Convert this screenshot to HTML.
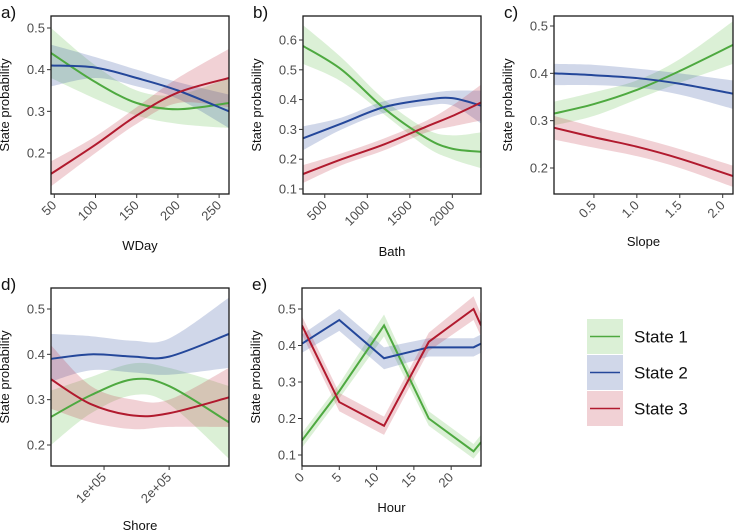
<!DOCTYPE html>
<html><head><meta charset="utf-8"><style>
body{margin:0;background:#fff}
svg{display:block;font-family:"Liberation Sans",Arial,sans-serif}
</style></head><body>
<svg id="chart" width="734" height="532" viewBox="0 0 734 532"></svg>
<script>
// Panel a: WDay
const aX=[46,100,150,200,262];
const aG=[0.44,0.37,0.32,0.305,0.32], aGl=[0.38,0.33,0.29,0.27,0.26], aGu=[0.50,0.41,0.35,0.34,0.38];
const aB=[0.41,0.405,0.38,0.35,0.30], aBl=[0.36,0.38,0.36,0.33,0.26], aBu=[0.46,0.43,0.40,0.37,0.34];
const aR=[0.15,0.22,0.29,0.345,0.38], aRl=[0.12,0.20,0.27,0.32,0.31], aRu=[0.18,0.24,0.31,0.38,0.45];
// Panel b: Bath
const bX=[244,700,1200,1700,2000,2337];
const bG=[0.58,0.50,0.37,0.27,0.235,0.225], bGl=[0.52,0.46,0.35,0.24,0.20,0.17], bGu=[0.65,0.54,0.40,0.30,0.28,0.29];
const bB=[0.27,0.32,0.375,0.40,0.405,0.38], bBl=[0.23,0.30,0.355,0.38,0.38,0.32], bBu=[0.31,0.34,0.395,0.42,0.43,0.43];
const bR=[0.15,0.20,0.25,0.31,0.345,0.39], bRl=[0.12,0.18,0.23,0.29,0.31,0.33], bRu=[0.18,0.22,0.27,0.33,0.38,0.45];
// Panel c: Slope
const cX=[0.035,0.5,1.0,1.5,2.12];
const cG=[0.315,0.335,0.365,0.405,0.46], cGl=[0.29,0.31,0.345,0.38,0.42], cGu=[0.34,0.36,0.385,0.43,0.51];
const cB=[0.40,0.396,0.39,0.378,0.357], cBl=[0.375,0.375,0.37,0.355,0.325], cBu=[0.42,0.418,0.41,0.40,0.385];
const cR=[0.285,0.265,0.245,0.22,0.183], cRl=[0.26,0.243,0.225,0.20,0.16], cRu=[0.31,0.287,0.265,0.24,0.205];
// Panel d: Shore
const dX=[18500,80000,145000,200000,292000];
const dG=[0.262,0.31,0.345,0.33,0.25], dGl=[0.20,0.27,0.31,0.29,0.17], dGu=[0.32,0.35,0.38,0.37,0.33];
const dB=[0.39,0.40,0.395,0.395,0.445], dBl=[0.34,0.365,0.36,0.355,0.37], dBu=[0.445,0.44,0.43,0.435,0.525];
const dR=[0.345,0.29,0.265,0.27,0.305], dRl=[0.28,0.25,0.235,0.24,0.24], dRu=[0.42,0.33,0.30,0.30,0.37];
// Panel e: Hour
const eX=[0,5,11,17,23,24];
const eG=[0.14,0.275,0.455,0.20,0.11,0.135], eGl=[0.12,0.255,0.425,0.18,0.09,0.115], eGu=[0.16,0.295,0.485,0.22,0.13,0.155];
const eB=[0.405,0.47,0.365,0.395,0.395,0.405], eBl=[0.38,0.44,0.335,0.37,0.37,0.38], eBu=[0.43,0.50,0.395,0.42,0.42,0.43];
const eR=[0.455,0.245,0.18,0.41,0.50,0.455], eRl=[0.43,0.22,0.155,0.385,0.47,0.425], eRu=[0.48,0.27,0.205,0.435,0.535,0.485];

const aXt=[50,100,150,200,250], aYt=[0.2,0.3,0.4,0.5];
const bXt=[500,1000,1500,2000], bYt=[0.1,0.2,0.3,0.4,0.5,0.6];
const cXt=[0.5,1.0,1.5,2.0], cYt=[0.2,0.3,0.4,0.5];
const dXt=[100000,200000], dYt=[0.2,0.3,0.4,0.5];
const eXt=[0,5,10,15,20], eYt=[0.1,0.2,0.3,0.4,0.5];

const NS="http://www.w3.org/2000/svg", svg=document.getElementById('chart');
function el(t,a,p){const e=document.createElementNS(NS,t);for(const k in a)e.setAttribute(k,a[k]);(p||svg).appendChild(e);return e;}
const COL={g:'#4ea940',b:'#24479a',r:'#b11a2e'}, FILL={g:'rgba(110,195,90,0.25)',b:'rgba(40,75,155,0.22)',r:'rgba(190,45,65,0.22)'};

function smooth(pts){let d='';for(let i=0;i<pts.length-1;i++){const p0=pts[i-1]||pts[i],p1=pts[i],p2=pts[i+1],p3=pts[i+2]||p2;
 const c1=[p1[0]+(p2[0]-p0[0])/6,p1[1]+(p2[1]-p0[1])/6],c2=[p2[0]-(p3[0]-p1[0])/6,p2[1]-(p3[1]-p1[1])/6];
 d+=` C${c1[0]},${c1[1]} ${c2[0]},${c2[1]} ${p2[0]},${p2[1]}`;}return d;}
function linear(pts){return pts.slice(1).map(p=>` L${p[0]},${p[1]}`).join('');}

function panel(o){
 const g=el('g',{});
 const sx=v=>o.x0+(v-o.dx[0])/(o.dx[1]-o.dx[0])*(o.x1-o.x0);
 const sy=v=>o.yA+(v-o.vA)/(o.vB-o.vA)*(o.yB-o.yA);
 const cp=`clip-${o.id}`;const c=el('clipPath',{id:cp},g);el('rect',{x:o.x0,y:o.y0,width:o.x1-o.x0,height:o.y1-o.y0},c);
 const cg=el('g',{'clip-path':`url(#${cp})`},g);
 const path=o.lin?linear:smooth;
 for(const s of o.series){const up=o.xs.map((x,i)=>[sx(x),sy(s.u[i])]),lo=o.xs.map((x,i)=>[sx(x),sy(s.l[i])]).reverse();
  const b=el('path',{d:`M${up[0][0]},${up[0][1]}`+path(up)+` L${lo[0][0]},${lo[0][1]}`+path(lo)+'Z',fill:FILL[s.c],stroke:'none'},cg);
  }
 for(const s of o.series){const m=o.xs.map((x,i)=>[sx(x),sy(s.m[i])]);
  const l=el('path',{d:`M${m[0][0]},${m[0][1]}`+path(m),fill:'none',stroke:COL[s.c],'stroke-width':2},cg);
  }
 el('rect',{x:o.x0,y:o.y0,width:o.x1-o.x0,height:o.y1-o.y0,fill:'none',stroke:'#1a1a1a','stroke-width':1.3},g);
 o.yt.forEach(v=>{const y=sy(v);el('line',{x1:o.x0-4,x2:o.x0,y1:y,y2:y,stroke:'#333'},g);
  const t=el('text',{x:o.x0-6,y:y+4.5,'text-anchor':'end','font-size':13,fill:'#4d4d4d'},g);t.textContent=o.fmtY(v);
  });
 o.xt.forEach(v=>{const x=sx(v);el('line',{x1:x,x2:x,y1:o.y1,y2:o.y1+4,stroke:'#333'},g);
  const t=el('text',{x:x+3,y:o.y1+12,'text-anchor':'end','font-size':13,fill:'#4d4d4d',transform:`rotate(-45 ${x+3} ${o.y1+12})`},g);t.textContent=o.fmtX(v);
  });
 const xt=el('text',{x:(o.x0+o.x1)/2,y:o.y1+o.xtOff,'text-anchor':'middle','font-size':13,fill:'#111'},g);xt.textContent=o.xl;
 
 const yc=(o.y0+o.y1)/2,yx=o.x0-42;
 const yt=el('text',{x:yx,y:yc,'text-anchor':'middle','font-size':13,fill:'#111',transform:`rotate(-90 ${yx} ${yc})`},g);yt.textContent='State probability';
 
 const lt=el('text',{x:o.x0-50,y:o.y0+2,'font-size':17,fill:'#111'},g);lt.textContent=o.id+')';
 
}
const f1=v=>v.toFixed(1);
function S(m,l,u,c,n){return {m,l,u,c,n};}
panel({id:'a',x0:51,x1:229,y0:16,y1:194,dx:[46,262],vA:0.5,yA:28,vB:0.2,yB:153,xs:aX,xt:aXt,yt:aYt,fmtX:v=>v,fmtY:f1,xl:'WDay',xtOff:56,
 series:[S(aG,aGl,aGu,'g','state1'),S(aB,aBl,aBu,'b','state2'),S(aR,aRl,aRu,'r','state3')]});
panel({id:'b',x0:303,x1:481,y0:16,y1:194,dx:[244,2337],vA:0.6,yA:40,vB:0.1,yB:189,xs:bX,xt:bXt,yt:bYt,fmtX:v=>v,fmtY:f1,xl:'Bath',xtOff:62,
 series:[S(bG,bGl,bGu,'g','state1'),S(bB,bBl,bBu,'b','state2'),S(bR,bRl,bRu,'r','state3')]});
panel({id:'c',x0:554,x1:733,y0:16,y1:194,dx:[0.035,2.12],vA:0.5,yA:26,vB:0.2,yB:168,xs:cX,xt:cXt,yt:cYt,fmtX:f1,fmtY:f1,xl:'Slope',xtOff:52,
 series:[S(cG,cGl,cGu,'g','state1'),S(cB,cBl,cBu,'b','state2'),S(cR,cRl,cRu,'r','state3')]});
panel({id:'d',x0:51,x1:229,y0:288,y1:466,dx:[18500,292000],vA:0.5,yA:309,vB:0.2,yB:445,xs:dX,xt:dXt,yt:dYt,fmtX:v=>(v/100000)+'e+05',fmtY:f1,xl:'Shore',xtOff:64,
 series:[S(dG,dGl,dGu,'g','state1'),S(dB,dBl,dBu,'b','state2'),S(dR,dRl,dRu,'r','state3')]});
panel({id:'e',x0:302,x1:481,y0:288,y1:466,dx:[0,24],vA:0.5,yA:309,vB:0.1,yB:455,xs:eX,xt:eXt,yt:eYt,fmtX:v=>v,fmtY:f1,xl:'Hour',xtOff:46,lin:true,
 series:[S(eG,eGl,eGu,'g','state1'),S(eB,eBl,eBu,'b','state2'),S(eR,eRl,eRu,'r','state3')]});

// legend
const leg=el('g',{});
[['g','State 1'],['b','State 2'],['r','State 3']].forEach((d,i)=>{const y=319+i*36;
 const e=el('g',{},leg);
 el('rect',{x:587,y:y,width:36,height:35,fill:FILL[d[0]]},e);
 el('line',{x1:590,x2:620,y1:y+17.5,y2:y+17.5,stroke:COL[d[0]],'stroke-width':1.5},e);
 const t=el('text',{x:634,y:y+23.5,'font-size':17,fill:'#111'},e);t.textContent=d[1];});
</script>
</body></html>
